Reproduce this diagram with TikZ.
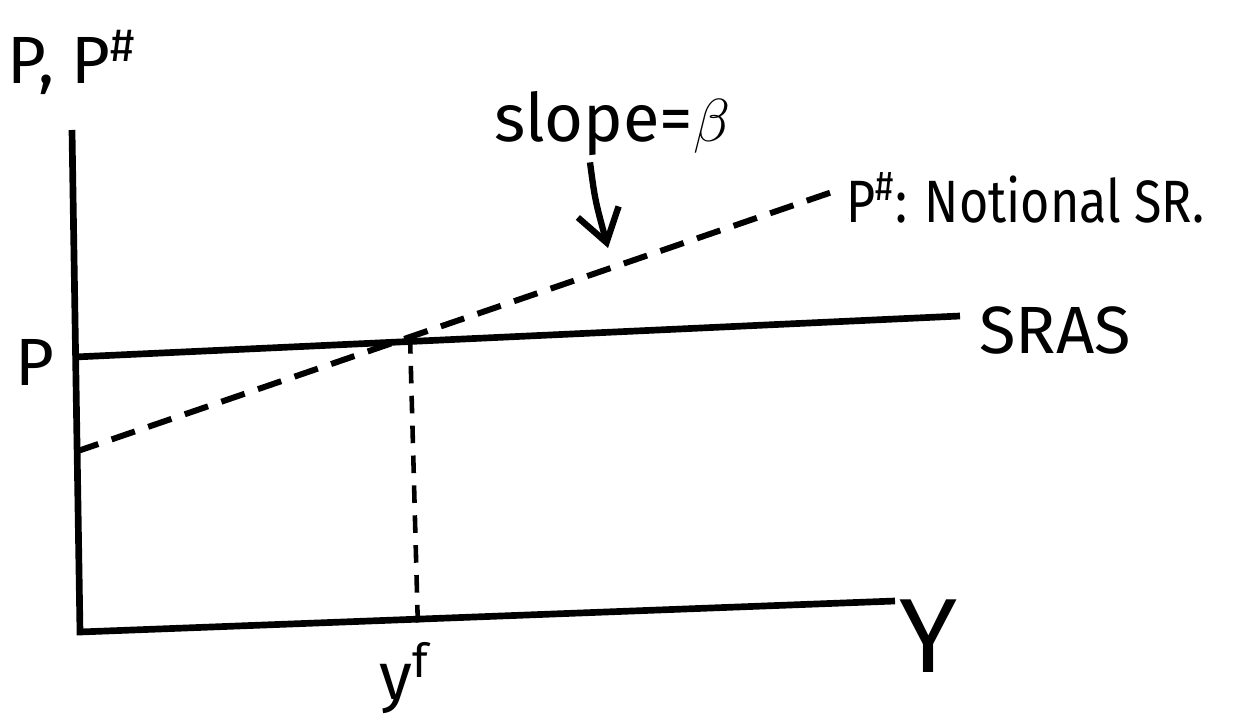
\documentclass[tikz,border=0pt]{standalone}
\usepackage{fontspec}
\setmainfont{Fira Sans}
\usetikzlibrary{arrows.meta}
\begin{document}
\begin{tikzpicture}[
        x=0.01cm, y=-0.01cm,
        axis/.style={line width=1.9pt},
        curve/.style={line width=1.9pt},
        notional/.style={line width=1.7pt, dash pattern=on 7pt off 4pt},
        guide/.style={line width=1.3pt, dash pattern=on 5pt off 3.5pt},
        lbl/.style={font=\fontsize{19}{22}\selectfont, inner sep=1pt},
        pointer/.style={-{Straight Barb[length=9pt, width=12pt]}, line width=1.8pt}
    ]
    \useasboundingbox (0,0) rectangle (1240,725);

    % Eixos
    \coordinate (o) at (80,632);
    \coordinate (ytop) at (72,130);
    \coordinate (xend) at (895,601);
    \draw[axis] (ytop) -- (o) -- (xend);

    % Curvas
    \coordinate (sras0) at (75,357);
    \coordinate (sras1) at (960,316);
    \coordinate (nat0) at (75,452);
    \coordinate (nat1) at (838,190);
    \coordinate (eq) at (410,336);
    \coordinate (yfoot) at (418,630);
    \draw[curve] (sras0) -- (sras1);
    \draw[notional] (nat0) -- (nat1);
    \draw[guide] (eq) -- (yfoot);

    % Legendas
    \node[lbl] (ylab) at (72,62) {P, P\textsuperscript{\#}};
    \node[lbl] (plab) at (35,362) {P};
    \node[lbl, font=\fontsize{30}{34}\selectfont] (xlab) at (928,636) {Y};
    \node[lbl] (yflab) at (405,678) {y\textsuperscript{f}};
    \node[lbl, anchor=west] (sraslab) at (975,330) {SRAS};
    \node[lbl, anchor=west, font=\fontsize{17}{20}\selectfont] (natlab) at (842,198) {\scalebox{0.84}[1]{P\textsuperscript{\#}: Notional SR.}};
    \node[lbl] (slopelab) at (612,124) {slope=$\beta$};

    \coordinate (tip) at (608,248);
    \draw[pointer] (slopelab.south) ++(-22,2) coordinate (tail)
        (tail) .. controls (595,200) .. (tip);

\end{tikzpicture}
\end{document}
